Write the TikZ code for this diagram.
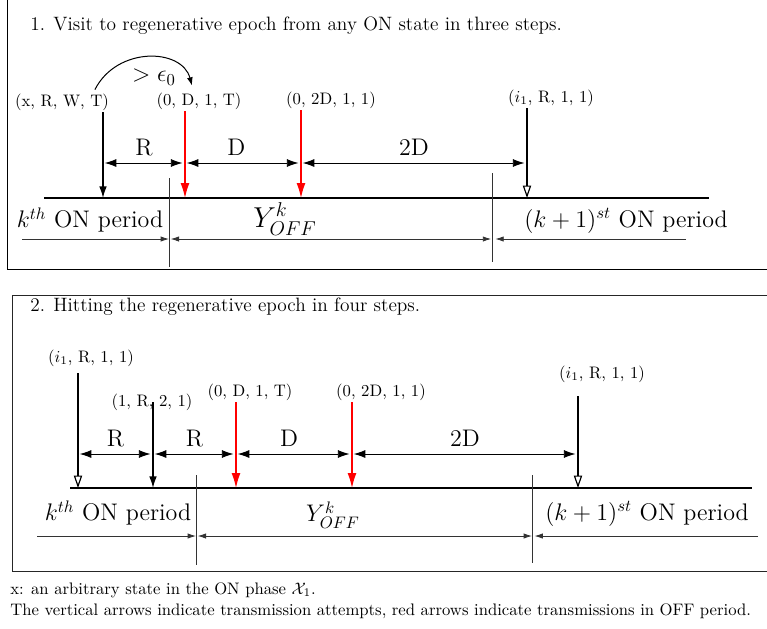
\documentclass[tikz,border=0pt]{standalone}
\usepackage{amsmath,amssymb}
\usetikzlibrary{positioning,arrows.meta,calc}
\tikzset{
  frm/.style={line width=0.6pt,draw=black!85},
  ttl/.style={font=\fontsize{11.6}{14}\selectfont,anchor=base west,inner sep=0pt},
  st/.style={font=\normalsize,inner sep=1pt},
  big/.style={font=\Large,inner sep=1pt},
  axis/.style={line width=1.6pt},
  tra/.style={-{Latex[length=7pt,width=4.6pt]},line width=0.8pt},
  tred/.style={-{Latex[length=9pt,width=5.4pt]},line width=0.8pt,draw=red},
  topen/.style={-{Triangle[open,length=7.5pt,width=5pt,line width=0.7pt]},line width=0.8pt},
  dim/.style={{Latex[length=7pt,width=4.8pt]}-{Latex[length=7pt,width=4.8pt]},line width=0.5pt,shorten <=1pt,shorten >=1.5pt},
  per/.style={-{Latex[length=5pt,width=3.2pt]},line width=0.5pt,draw=black!80},
  perb/.style={per,{Latex[length=5pt,width=3.2pt]}-{Latex[length=5pt,width=3.2pt]}},
  sepl/.style={line width=0.5pt,draw=black!80},
  note/.style={anchor=base west,inner sep=0pt},
}

\begin{document}
\begin{tikzpicture}[x=0.6pt,y=-0.6pt]
\useasboundingbox (0,0) rectangle (767,628);
\begin{scope}
\clip (0,0) rectangle (767,628);
\draw[frm,draw=black] (7,-10) rectangle (790,269);
\draw[frm] (12,295) rectangle (790,571);
\end{scope}
% first panel: three steps
\node[ttl] (t1) at (30,30) {1. Visit to regenerative epoch from any ON state in three steps.};
\coordinate (a1) at (103,198);
\coordinate (a2) at (185,198);
\coordinate (a3) at (301,198);
\coordinate (a4) at (527,198);
\coordinate (m1) at (0,163);
\draw[axis] (44,198) -- (709,198);
\node[st] (xrwt) at (62,102) {(x, R, W, T)};
\node[st] (d1) at (199,101) {(0, D, 1, T)};
\node[st] (d2) at (331,100) {(0, 2D, 1, 1)};
\node[st] (i1) at (551,98) {($i_1$, R, 1, 1)};
\draw[tra] (xrwt.south -| a1) -- (a1);
\draw[tred] (d1.south -| a2) -- (a2);
\draw[tred] (d2.south -| a3) -- (a3);
\draw[topen] (i1.south -| a4) -- (a4);
\draw[-{Latex[length=5pt,width=3.5pt]},line width=0.6pt] ($(xrwt.north east)+(-16,-2)$) .. controls (117,46) and (182,48) .. ($(d1.north)+(-7,-5)$);
\node[big] (eps) at (154,77) {$>\epsilon_0$};
\draw[dim] (a1 |- m1) -- node[big,above=3pt] (r1) {R} (a2 |- m1);
\draw[dim] (a2 |- m1) -- node[big,above=3pt,xshift=-4pt] (dd1) {D} (a3 |- m1);
\draw[dim] (a3 |- m1) -- node[big,above=3pt] (dd2) {2D} (a4 |- m1);
% period boundaries
\coordinate (e1) at (169,239);
\coordinate (e2) at (492,239);
\coordinate (p1) at (22,239);
\coordinate (p2) at (686,239);
\draw[sepl] (169,178) -- (169,267);
\draw[sepl] (492,173) -- (492,262);
\node[big] (on1) at (90,220) {$k^{th}$ ON period};
\node[big,font=\LARGE] (off1) at (285,219) {$Y^k_{OFF}$};
\node[big] (on2) at (626,221) {$(k+1)^{st}$ ON period};
\draw[per] (p1) -- (e1);
\draw[perb,shorten <=1pt,shorten >=0.5pt] (e1) -- (e2);
\draw[per,shorten >=2pt] (p2) -- (e2);
% second panel: four steps
\node[ttl] (t2) at (30,311) {2. Hitting the regenerative epoch in four steps.};
\coordinate (b1) at (78,488);
\coordinate (b2) at (153,488);
\coordinate (b3) at (236,488);
\coordinate (b4) at (352,488);
\coordinate (b5) at (578,488);
\coordinate (m2) at (0,454);
\draw[axis] (70,488) -- (752,488);
\node[st] (j1) at (91,358) {($i_1$, R, 1, 1)};
\node[st] (r2s) at (152,402) {(1, R, 2, 1)};
\node[st] (d3) at (250,392) {(0, D, 1, T)};
\node[st] (d4) at (381,392) {(0, 2D, 1, 1)};
\node[st] (j2) at (602,374) {($i_1$, R, 1, 1)};
\draw[topen,shorten <=3pt] (j1.south -| b1) -- (b1);
\draw[tra] (r2s.center -| b2) -- (b2);
\draw[tred] (d3.south -| b3) -- (b3);
\draw[tred] (d4.south -| b4) -- (b4);
\draw[topen,shorten <=7pt] (j2.south -| b5) -- (b5);
\draw[dim] (b1 |- m2) -- node[big,above=3pt] (r3) {R} (b2 |- m2);
\draw[dim] (b2 |- m2) -- node[big,above=3pt] (r4) {R} (b3 |- m2);
\draw[dim] (b3 |- m2) -- node[big,above=3pt,xshift=-3pt] (dd3) {D} (b4 |- m2);
\draw[dim] (b4 |- m2) -- node[big,above=3pt] (dd4) {2D} (b5 |- m2);
\coordinate (f1) at (196,536);
\coordinate (f2) at (532,536);
\coordinate (q1) at (37,536);
\coordinate (q2) at (758,536);
\draw[sepl] (196,475) -- (196,565);
\draw[sepl] (532,475) -- (532,563);
\node[big] (on3) at (118,513) {$k^{th}$ ON period};
\node[big] (off2) at (333,515) {$Y^k_{OFF}$};
\node[big] (on4) at (647,514) {$(k+1)^{st}$ ON period};
\draw[per] (q1) -- (f1);
\draw[perb,shorten <=1pt] (f1) -- (f2);
\draw[per,shorten >=1.5pt] (q2) -- (f2);
% footnote
\node[note] (n1) at (10,594) {x: an arbitrary state in the ON phase $\mathcal{X}_1$.};
\node[note] (n2) at (10,615) {The vertical arrows indicate transmission attempts, red arrows indicate transmissions in OFF period.};
\end{tikzpicture}
\end{document}
